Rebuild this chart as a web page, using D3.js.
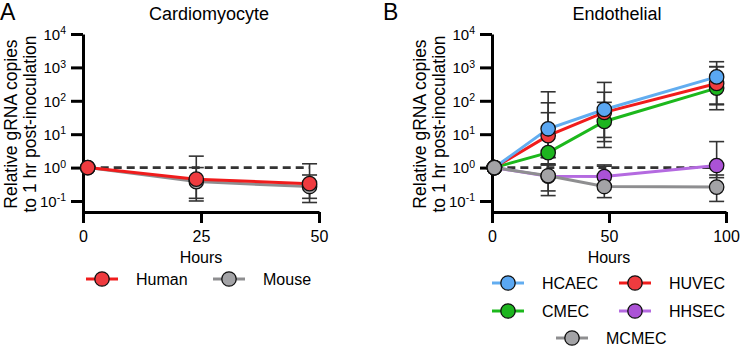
<!DOCTYPE html>
<html>
<head>
<meta charset="utf-8">
<script src="https://cdn.jsdelivr.net/npm/d3@7"></script>
<style>
	body { margin: 0; background: #fff; }
	svg { font-family: 'Liberation Sans', Arial, sans-serif; display: block; }
</style>
</head>
<body>
<svg id="fig" width="740" height="347"></svg>
<script>
// ---- data ----
const yTicks = [0.1, 1, 10, 100, 1000, 10000];
const yExp = ['-1', '0', '1', '2', '3', '4'];

// panel A: cardiomyocyte
const hoursA = [1, 24, 48];
const xTicksA = [0, 25, 50];
const humanMean = [1, 0.45, 0.33];
const humanLow = [1, 0.12, 0.12];
const humanHigh = [1, 2.2, 1.3];
const mouseMean = [1, 0.38, 0.27];
const mouseLow = [1, 0.1, 0.09];
const mouseHigh = [1, 1.0, 0.6];

// panel B: endothelial
const hoursB = [1, 24, 48, 96];
const xTicksB = [0, 50, 100];
const hhsecMean = [1, 0.55, 0.54, 1.15];
const hhsecLow = [1, 0.2, 0.3, 0.5];
const hhsecHigh = [1, 1.2, 1.2, 6];
const cmecMean = [1, 2.8, 24, 240];
const cmecLow = [1, 2.0, 4, 54];
const cmecHigh = [1, 44, 90, 1050];
const huvecMean = [1, 9, 45, 330];
const huvecLow = [1, 1.2, 6, 76];
const huvecHigh = [1, 87, 180, 1050];
const hcaecMean = [1, 14.5, 55, 520];
const hcaecLow = [1, 2.0, 8, 80];
const hcaecHigh = [1, 186, 355, 1480];
const mcmecMean = [1, 0.57, 0.27, 0.26];
const mcmecLow = [1, 0.145, 0.126, 0.097];
const mcmecHigh = [1, 1.3, 1.1, 0.6];

const colors = {
	Human: '#ef3b3f', Mouse: '#a3a3a6',
	HCAEC: '#5aa7f2', HUVEC: '#ef3b3f', CMEC: '#1db51f', HHSEC: '#ab52d6', MCMEC: '#a3a3a6'
};
const lineColors = {
	Human: '#f01c1c', Mouse: '#8e8e90',
	HCAEC: '#62adf0', HUVEC: '#f01c1c', CMEC: '#1cb81c', HHSEC: '#b46ae0', MCMEC: '#8e8e90'
};

function makeSeries(name, hours, mean, lo, hi) {
	return { name, values: hours.map((h, i) => ({ h, v: mean[i], lo: lo[i], hi: hi[i] })) };
}

// draw order matters (last on top)
const seriesA = [
	makeSeries('Mouse', hoursA, mouseMean, mouseLow, mouseHigh),
	makeSeries('Human', hoursA, humanMean, humanLow, humanHigh)
];
const seriesB = [
	makeSeries('HHSEC', hoursB, hhsecMean, hhsecLow, hhsecHigh),
	makeSeries('CMEC', hoursB, cmecMean, cmecLow, cmecHigh),
	makeSeries('HUVEC', hoursB, huvecMean, huvecLow, huvecHigh),
	makeSeries('HCAEC', hoursB, hcaecMean, hcaecLow, hcaecHigh),
	makeSeries('MCMEC', hoursB, mcmecMean, mcmecLow, mcmecHigh)
];

const $svg = d3.select('#fig');

function createPanel(opt) {
	const $g = $svg.append('g');
	const top = 34;
	const bottom = 212;
	const r = 7.2;

	const scaleX = d3.scaleLinear().domain(opt.xDomain).range([opt.left, opt.right]);
	const scaleY = d3.scaleLog().domain([Math.pow(10, -1.33), 1e4]).range([bottom, top]);

	// letter + title
	$g.append('text').attr('x', opt.letterX).attr('y', 20)
		.style('font-size', '23px').text(opt.letter);
	$g.append('text').attr('x', (opt.left + opt.right) / 2 + 8).attr('y', 20)
		.attr('text-anchor', 'middle').style('font-size', '18px').text(opt.title);

	// y label
	const $yl = $g.append('text')
		.attr('transform', `translate(${opt.left - 66}, 124) rotate(-90)`)
		.attr('text-anchor', 'middle').style('font-size', '17.5px');
	$yl.append('tspan').attr('x', 0).attr('y', 0).text('Relative gRNA copies');
	$yl.append('tspan').attr('x', 0).attr('y', 18.5).text('to 1 hr post-inoculation');

	// y axis
	const $ya = $g.append('g').attr('transform', `translate(${opt.left},0)`)
		.call(d3.axisLeft(scaleY).tickValues(yTicks).tickSize(12).tickSizeOuter(0).tickPadding(5).tickFormat(''));
	$ya.selectAll('.tick text').each(function (d, i) {
		const t = d3.select(this).attr('dy', '0.36em').style('font-size', '15px').attr('fill', '#000');
		t.append('tspan').text('10');
		t.append('tspan').attr('dy', '-0.55em').style('font-size', '10.5px').text(yExp[i]);
	});

	// x axis
	const $xa = $g.append('g').attr('transform', `translate(0,${bottom})`)
		.call(d3.axisBottom(scaleX).tickValues(opt.xTicks).tickSize(11).tickSizeOuter(0).tickPadding(8));
	$xa.selectAll('.tick text').style('font-size', '16px').attr('fill', '#000');

	[$ya, $xa].forEach($a => {
		$a.select('.domain').attr('stroke', '#000').attr('stroke-width', 3);
		$a.selectAll('.tick line').attr('stroke', '#000').attr('stroke-width', 3);
	});

	$g.append('text').attr('x', (opt.left + opt.right) / 2).attr('y', 263)
		.attr('text-anchor', 'middle').style('font-size', '16px').text('Hours');

	// dashed baseline at 1
	const lastH = opt.series[0].values[opt.series[0].values.length - 1].h;
	$g.append('line')
		.attr('x1', scaleX(1)).attr('x2', scaleX(lastH))
		.attr('y1', scaleY(1)).attr('y2', scaleY(1))
		.attr('stroke', '#333').attr('stroke-width', 2.6).attr('stroke-dasharray', '8,5');

	const line = d3.line().x(d => scaleX(d.h)).y(d => scaleY(d.v));

	// error bars
	const $err = $g.append('g');
	opt.series.forEach(s => {
		s.values.filter(d => d.h > 1).forEach(d => {
			const x = scaleX(d.h);
			$err.append('line').attr('x1', x).attr('x2', x)
				.attr('y1', scaleY(d.lo)).attr('y2', scaleY(d.hi));
			[d.lo, d.hi].forEach(e => {
				$err.append('line').attr('x1', x - 7.5).attr('x2', x + 7.5)
					.attr('y1', scaleY(e)).attr('y2', scaleY(e));
			});
		});
	});
	$err.selectAll('line').attr('stroke', '#333').attr('stroke-width', 1.6);

	opt.series.forEach(s => {
		$g.append('path').datum(s.values).attr('d', line)
			.attr('fill', 'none').attr('stroke', lineColors[s.name]).attr('stroke-width', 3);
	});
	opt.series.forEach(s => {
		$g.selectAll(null).data(s.values).enter().append('circle')
			.attr('cx', d => scaleX(d.h)).attr('cy', d => scaleY(d.v)).attr('r', r)
			.attr('fill', colors[s.name]).attr('stroke', '#111').attr('stroke-width', 1.3);
	});

	// legend
	opt.legend.forEach(l => {
		const $l = $g.append('g').attr('transform', `translate(${l.x},${l.y})`);
		$l.append('line').attr('x1', -16).attr('x2', 16)
			.attr('stroke', lineColors[l.name]).attr('stroke-width', 3);
		$l.append('circle').attr('r', r).attr('fill', colors[l.name])
			.attr('stroke', '#111').attr('stroke-width', 1.3);
		$l.append('text').attr('x', 34).attr('dy', '0.36em')
			.style('font-size', '16px').text(l.name);
	});
}

createPanel({
	letter: 'A', letterX: 0, title: 'Cardiomyocyte',
	left: 83, right: 319, xDomain: [0, 50], xTicks: xTicksA,
	series: seriesA,
	legend: [{ name: 'Human', x: 102, y: 279 }, { name: 'Mouse', x: 229, y: 279 }]
});

createPanel({
	letter: 'B', letterX: 383, title: 'Endothelial',
	left: 492, right: 726, xDomain: [0, 100], xTicks: xTicksB,
	series: seriesB,
	legend: [
		{ name: 'HCAEC', x: 508, y: 283 }, { name: 'HUVEC', x: 635, y: 283 },
		{ name: 'CMEC', x: 508, y: 311 }, { name: 'HHSEC', x: 635, y: 311 },
		{ name: 'MCMEC', x: 572, y: 338 }
	]
});
</script>
</body>
</html>
